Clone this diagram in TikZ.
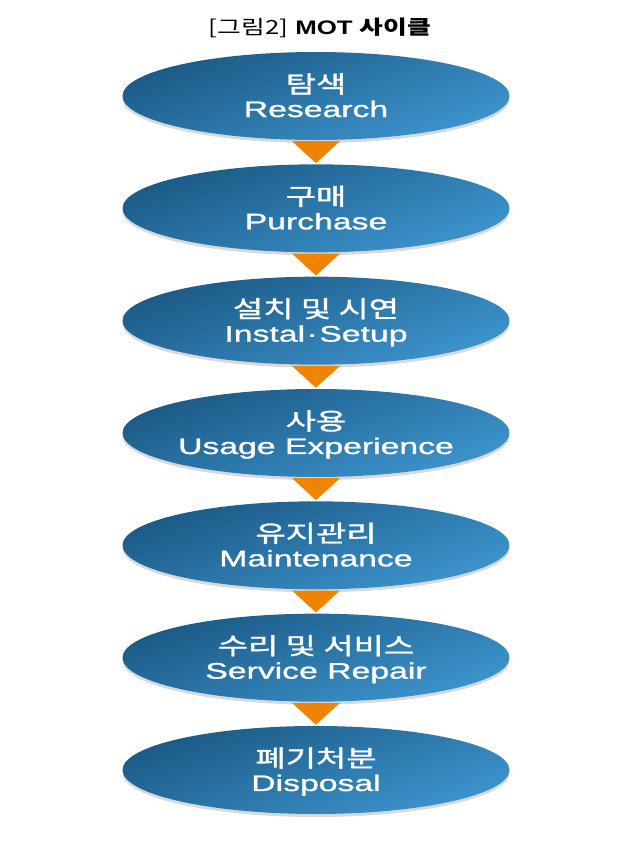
\documentclass[tikz,border=0pt]{standalone}
\usepackage{fontspec}
\setmainfont{Liberation Sans}
\newfontfamily\kr{Noto Sans CJK KR}
\newfontfamily\krm[FakeBold=1.3]{Noto Sans CJK KR}
\newfontfamily\enm[FakeBold=1.0]{Liberation Sans}
\usetikzlibrary{shapes.geometric,shadows,calc}
\definecolor{dkblue}{HTML}{1B5985}
\definecolor{ltblue}{HTML}{3D95CE}
\definecolor{arrowc}{HTML}{F08300}
\tikzset{
  ovalbox/.style={ellipse, minimum width=387pt, minimum height=88pt, inner sep=0pt,
    top color=dkblue, bottom color=ltblue, shading angle=20,
    drop shadow={shadow xshift=0pt, shadow yshift=-3pt, opacity=0.15, fill=black}},
  kotext/.style={text=white, inner sep=0pt, font=\krm\fontsize{23.5}{25}\selectfont},
  entext/.style={text=white, inner sep=0pt, anchor=base, font=\enm\fontsize{22.5}{24}\selectfont},
  tri/.style={fill=arrowc}
}
\begin{document}
\begin{tikzpicture}[x=1pt,y=-1pt]
\useasboundingbox (0,0) rectangle (640,857);
\node[inner sep=0pt, anchor=base] (title) at (320,34)
  {\scalebox{1.45}[1.1]{\fontsize{17.8}{19}\selectfont{\kr [그림2]} \textbf{MOT {\kr 사이클}}}};
\foreach \i/\ko/\en in {1/탐색/Research, 2/구매/Purchase, 3/설치 및 시연/Instal{\kern1pt}·{\kern1pt}Setup,
  4/사용/Usage Experience, 5/유지관리/Maintenance, 6/수리 및 서비스/Service Repair, 7/폐기처분/Disposal}{
  \pgfmathsetmacro{\cy}{96+112.33*(\i-1)}
  \node[ovalbox] (e\i) at (316,\cy) {};
  \node[kotext] (k\i) at (316,\cy-12) {\scalebox{1.4}[1]{\ko}};
  \node[entext] (t\i) at (316,\cy+21) {\scalebox{1.5}[1]{\en}};
}
\foreach \i [evaluate=\i as \j using int(\i+1)] in {1,...,6}{
  \fill[tri] ($(e\i.south)+(-24,1)$) -- ($(e\i.south)+(24,1)$) -- ($(e\j.north)+(0,-1)$) -- cycle;
}
\end{tikzpicture}
\end{document}
